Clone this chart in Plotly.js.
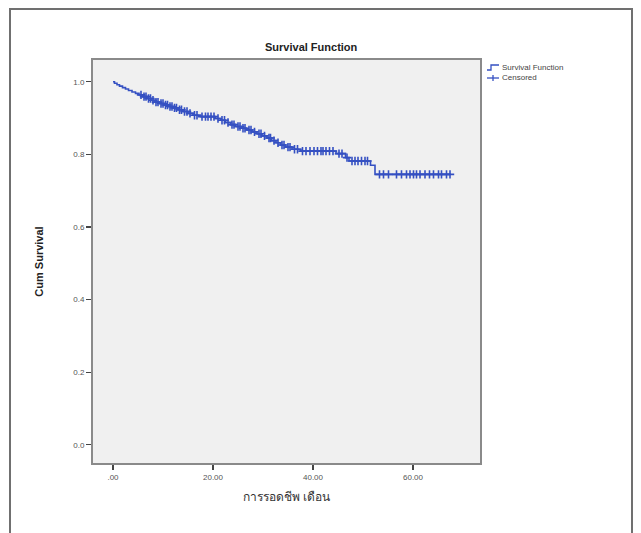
<!DOCTYPE html>
<html>
<head>
<meta charset="utf-8">
<script src="https://cdn.plot.ly/plotly-3.0.1.min.js"></script>
<style>html,body{margin:0;padding:0;background:#fff;}</style>
</head>
<body>
<div id="chart" style="width:641px;height:533px;"></div>
<script>
// Kaplan-Meier step data (time in months, cumulative survival after each event)
const eventTimes = [0, 0.3, 0.8, 1.3, 1.9, 2.5, 3.1, 3.8, 4.5, 5.2, 6.0, 6.8, 7.6, 8.4, 9.3, 10.2, 11.0, 12.0, 13.0, 14.0, 15.0, 16.0, 17.5, 20.5, 21.5, 22.5, 23.5, 24.5, 25.6, 26.7, 27.8, 28.8, 29.8, 30.8, 31.7, 32.6, 33.5, 34.5, 35.8, 37.5, 44.6, 46.5, 47.2, 51.5, 52.4];
const survival   = [1.0, 0.996, 0.992, 0.988, 0.984, 0.980, 0.976, 0.972, 0.968, 0.964, 0.959, 0.954, 0.949, 0.944, 0.940, 0.936, 0.932, 0.928, 0.923, 0.918, 0.913, 0.908, 0.904, 0.899, 0.894, 0.888, 0.882, 0.877, 0.872, 0.867, 0.862, 0.857, 0.851, 0.845, 0.838, 0.832, 0.826, 0.820, 0.814, 0.809, 0.802, 0.791, 0.782, 0.770, 0.745];
const lastTime = 67.4;
const censoredTimes = [5.6, 6.2, 6.6, 7.1, 7.5, 8.0, 8.6, 9.0, 9.6, 10.0, 10.5, 10.9, 11.4, 11.8, 12.3, 12.7, 13.3, 13.7, 14.3, 14.8, 15.4, 16.3, 16.8, 17.8, 18.5, 19.0, 19.6, 20.2, 21.0, 21.8, 22.3, 23.0, 23.8, 24.2, 25.0, 25.4, 26.0, 26.4, 27.2, 27.6, 28.3, 29.2, 29.6, 30.3, 31.2, 31.5, 32.2, 33.0, 33.8, 34.2, 35.0, 35.4, 36.3, 36.9, 37.9, 38.6, 39.4, 40.2, 40.9, 41.6, 42.0, 42.6, 43.3, 44.0, 45.2, 45.8, 46.8, 47.8, 48.4, 49.0, 49.7, 50.4, 50.9, 53.3, 54.1, 55.1, 56.7, 57.7, 58.7, 59.4, 60.1, 60.7, 61.4, 62.4, 63.3, 64.1, 65.1, 65.7, 66.7, 67.4];
const xTickVals = [0, 20, 40, 60];
const xTickText = [".00", "20.00", "40.00", "60.00"];
const yTickVals = [0, 0.2, 0.4, 0.6, 0.8, 1.0];
const yTickText = ["0.0", "0.2", "0.4", "0.6", "0.8", "1.0"];
const legendNames = ["Survival Function", "Censored"];

// survival value of the step function at a time
function survAt(t) {
  let s = survival[0];
  for (let i = 0; i < eventTimes.length; i++) { if (eventTimes[i] <= t) s = survival[i]; }
  return s;
}
const lineX = eventTimes.concat([lastTime]);
const lineY = survival.concat([survival[survival.length - 1]]);
const censoredY = censoredTimes.map(survAt);

const blue = '#3550c2';
const traces = [
  { x: lineX, y: lineY, mode: 'lines', line: { shape: 'hv', color: blue, width: 1.6 }, name: legendNames[0], showlegend: false },
  { x: censoredTimes, y: censoredY, mode: 'markers', marker: { symbol: 'cross-thin', size: 6, color: blue, line: { color: blue, width: 1.6 } }, name: legendNames[1], showlegend: false }
];

const px = (p) => (p - 93) / 387;   // pixel -> paper x
const py = (p) => (463 - p) / 403;  // pixel -> paper y

const layout = {
  width: 641, height: 533,
  margin: { l: 93, r: 161, t: 60, b: 70 },
  paper_bgcolor: '#ffffff',
  plot_bgcolor: '#f0f0f0',
  font: { family: 'Liberation Sans, Arial, sans-serif', color: '#333' },
  xaxis: {
    range: [-4, 73.4], tickvals: xTickVals, ticktext: xTickText,
    ticks: 'outside', ticklen: 5, tickwidth: 1.2, tickcolor: '#444',
    showgrid: false, zeroline: false,
    showline: true, linecolor: '#8a8a8a', linewidth: 2, mirror: true,
    tickfont: { size: 8, color: '#555' },
    title: { text: 'การรอดชีพ เดือน', font: { size: 12, color: '#333', family: 'Noto Sans, DejaVu Sans, sans-serif' }, standoff: 12 }
  },
  yaxis: {
    range: [-0.05, 1.06], tickvals: yTickVals, ticktext: yTickText,
    ticks: 'outside', ticklen: 5, tickwidth: 1.2, tickcolor: '#444',
    showgrid: false, zeroline: false,
    showline: true, linecolor: '#8a8a8a', linewidth: 2, mirror: true,
    tickfont: { size: 8, color: '#555' },
    title: { text: '<b>Cum Survival</b>', font: { size: 11, color: '#222' }, standoff: 27 }
  },
  showlegend: false,
  annotations: [
    { text: '<b>Survival Function</b>', xref: 'paper', yref: 'paper', x: px(311), y: py(47), xanchor: 'center', yanchor: 'middle', showarrow: false, font: { size: 11, color: '#222' } },
    { text: legendNames[0], xref: 'paper', yref: 'paper', x: px(500), y: py(67), xanchor: 'left', yanchor: 'middle', showarrow: false, font: { size: 8, color: '#444' } },
    { text: legendNames[1], xref: 'paper', yref: 'paper', x: px(500), y: py(78), xanchor: 'left', yanchor: 'middle', showarrow: false, font: { size: 8, color: '#444' } }
  ],
  shapes: [
    { type: 'path', xref: 'paper', yref: 'paper',
      path: `M ${px(10)} ${py(540)} L ${px(10)} ${py(9)} L ${px(632)} ${py(9)} L ${px(632)} ${py(540)}`,
      line: { color: '#707070', width: 2 } },
    // legend icons
    { type: 'path', xref: 'paper', yref: 'paper',
      path: `M ${px(487)} ${py(70)} L ${px(491)} ${py(70)} L ${px(491)} ${py(65)} L ${px(499)} ${py(65)}`,
      line: { color: blue, width: 1.3 } },
    { type: 'line', xref: 'paper', yref: 'paper', x0: px(487), x1: px(499), y0: py(78), y1: py(78), line: { color: blue, width: 1.3 } },
    { type: 'line', xref: 'paper', yref: 'paper', x0: px(493), x1: px(493), y0: py(75), y1: py(81), line: { color: blue, width: 1.3 } }
  ]
};

Plotly.newPlot('chart', traces, layout, { displayModeBar: false, staticPlot: true });
</script>
</body>
</html>
